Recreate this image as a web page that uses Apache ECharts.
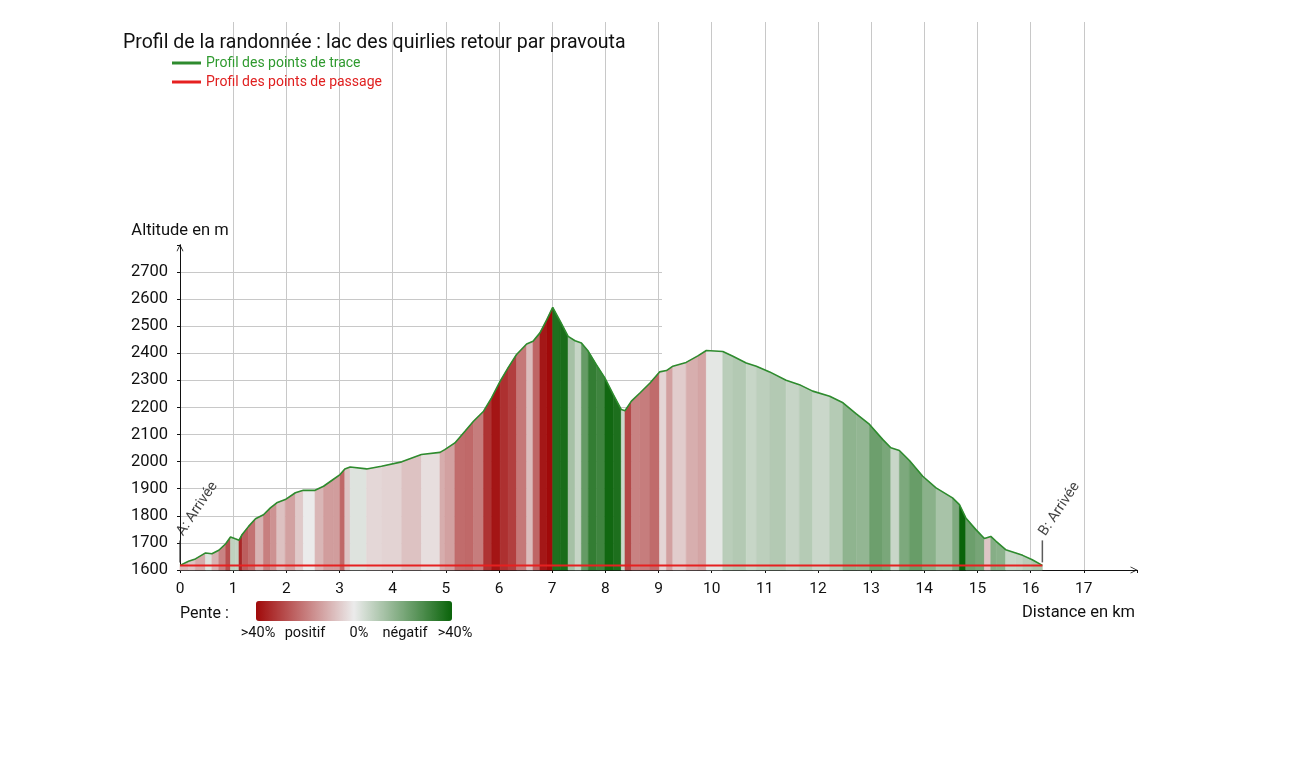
<!DOCTYPE html>
<html><head><meta charset="utf-8">
<script src="https://cdn.jsdelivr.net/npm/echarts@6/dist/echarts.min.js"></script>
<style>html,body{margin:0;padding:0;background:#fff}#c{width:1290px;height:765px}</style>
</head><body><div id="c"></div>
<script>
// ---- data ----
const distanceKm = [0.00,0.16,0.29,0.48,0.60,0.73,0.86,0.95,1.04,1.11,1.17,1.29,1.42,1.57,1.70,1.82,1.98,2.17,2.32,2.54,2.70,2.88,3.01,3.10,3.20,3.51,3.79,4.17,4.54,4.89,4.98,5.17,5.36,5.52,5.71,5.86,6.02,6.17,6.33,6.52,6.64,6.77,6.90,7.01,7.15,7.30,7.43,7.55,7.68,7.83,7.99,8.15,8.30,8.37,8.49,8.65,8.84,9.02,9.15,9.27,9.52,9.74,9.90,10.21,10.40,10.65,10.84,11.09,11.40,11.65,11.90,12.22,12.47,12.72,12.97,13.22,13.37,13.53,13.72,13.97,14.22,14.53,14.66,14.78,14.97,15.13,15.25,15.35,15.53,15.72,15.85,16.03,16.22];
const altitudeM = [1617,1632,1641,1663,1660,1673,1697,1722,1715,1710,1731,1761,1789,1804,1829,1848,1860,1885,1894,1894,1909,1934,1952,1973,1980,1973,1983,1999,2026,2034,2044,2069,2112,2149,2186,2235,2296,2346,2395,2434,2444,2475,2524,2569,2518,2462,2446,2438,2407,2358,2309,2247,2192,2188,2223,2253,2290,2331,2336,2352,2366,2390,2410,2406,2389,2364,2352,2331,2300,2284,2260,2241,2217,2176,2137,2081,2051,2041,2004,1946,1903,1866,1841,1792,1749,1716,1724,1706,1675,1663,1654,1638,1617];
const passageKm = [0, 16.22];
const passageAlt = [1617, 1617];
const waypointKm = [0, 16.22];
const waypointAlt = [1617, 1617];
const waypointNames = ['A: Arrivée', 'B: Arrivée'];
const slopeLegendLabels = ['>40%', 'positif', '0%', 'négatif', '>40%'];

// ---- derived tables ----
const segments = distanceKm.slice(0, -1).map((d, i) => {
  const d1 = distanceKm[i + 1], a0 = altitudeM[i], a1 = altitudeM[i + 1];
  let s = (a1 - a0) / ((d1 - d) * 1000) * 100;
  s = Math.max(-40, Math.min(40, s));
  return [d, d1, a0, a1, -s];
});
const traceData = distanceKm.map((d, i) => [d, altitudeM[i]]);
const passageData = passageKm.map((d, i) => [d, passageAlt[i]]);
const waypointData = waypointKm.map((d, i) => ({ value: [d, waypointAlt[i]], name: waypointNames[i] }));

const FONT = 'Roboto';
const arrowUp = 'path://M5,0L10,10L8.8,10L5,2.4L1.2,10L0,10Z';
const gridGrey = '#c8c8c8';

const chart = echarts.init(document.getElementById('c'));
chart.setOption({
  animation: false,
  backgroundColor: '#ffffff',
  textStyle: { fontFamily: FONT },
  title: {
    text: 'Profil de la randonnée : lac des quirlies retour par pravouta',
    left: 123, top: 33, padding: 0,
    textStyle: { fontSize: 19.5, fontWeight: 'normal', color: '#111', fontFamily: FONT }
  },
  legend: {
    orient: 'vertical', left: 172, top: 56, padding: 0,
    icon: 'rect', itemWidth: 29, itemHeight: 3, itemGap: 5,
    textStyle: { fontSize: 14, fontFamily: FONT, lineHeight: 14 },
    data: [
      { name: 'Profil des points de trace', textStyle: { color: '#2f9a2f' } },
      { name: 'Profil des points de passage', textStyle: { color: '#e02020' } }
    ]
  },
  grid: [
    { left: 180, right: 153, top: 22, bottom: 195 },
    { left: 180, right: 153, top: 244.8, bottom: 195 },
    { left: 180, width: 482, top: 272, bottom: 195 }
  ],
  xAxis: [
    {
      gridIndex: 0, type: 'value', min: 0, max: 18, interval: 1,
      axisLine: { show: true, lineStyle: { color: '#111', width: 1 }, symbol: ['none', arrowUp], symbolSize: [9, 7], symbolOffset: [0, -3] },
      axisTick: { show: true, length: 3, lineStyle: { color: '#111' } },
      axisLabel: { fontSize: 15.5, color: '#111', margin: 11, fontFamily: FONT, formatter: v => (v >= 18 ? '' : String(v)) },
      splitLine: { show: true, showMinLine: false, showMaxLine: false, lineStyle: { color: gridGrey, width: 1 } },
      name: 'Distance en km', nameLocation: 'end', nameGap: -2,
      nameTextStyle: { align: 'right', verticalAlign: 'top', padding: [34, 0, 0, 0], fontSize: 16.5, color: '#111', fontFamily: FONT }
    },
    { gridIndex: 1, type: 'value', min: 0, max: 18, show: false, splitLine: { show: false } },
    { gridIndex: 2, type: 'value', min: 0, max: 1, show: false, splitLine: { show: false } }
  ],
  yAxis: [
    { gridIndex: 0, type: 'value', min: 1600, max: 3600, show: false, splitLine: { show: false } },
    {
      gridIndex: 1, type: 'value', min: 1600, max: 2800, interval: 100,
      axisLine: { show: true, lineStyle: { color: '#111', width: 1 }, symbol: ['none', arrowUp], symbolSize: [9, 7], symbolOffset: [0, -3] },
      axisTick: { show: true, length: 3, lineStyle: { color: '#111' } },
      axisLabel: { fontSize: 16.5, color: '#111', margin: 12, fontFamily: FONT, formatter: v => (v > 2700 ? '' : String(v)) },
      splitLine: { show: false },
      name: 'Altitude en m', nameLocation: 'end', nameGap: 5,
      nameTextStyle: { fontSize: 16.5, color: '#111', fontFamily: FONT }
    },
    {
      gridIndex: 2, type: 'value', min: 1600, max: 2700, interval: 100,
      axisLine: { show: false }, axisTick: { show: false }, axisLabel: { show: false },
      splitLine: { show: true, showMinLine: false, lineStyle: { color: gridGrey, width: 1 } }
    }
  ],
  visualMap: {
    type: 'continuous', seriesIndex: 0, dimension: 4, min: -40, max: 40,
    inRange: { color: ['#a00a0a', '#ebebeb', '#0a640a'] },
    orient: 'horizontal', left: 251, top: 596, padding: 5,
    itemWidth: 20, itemHeight: 196, calculable: false, text: null, hoverLink: false
  },
  graphic: [
    { type: 'text', left: 180, top: 606, style: { text: 'Pente :', fontSize: 16, fill: '#111', fontFamily: FONT } },
    ...[258, 305, 359, 405, 455].map((cx, i) => ({
      type: 'text', x: cx, y: 633,
      style: { text: slopeLegendLabels[i], fontSize: 14.5, fill: '#111', fontFamily: FONT, align: 'center', verticalAlign: 'middle' }
    }))
  ],
  series: [
    {
      type: 'custom', name: 'pente', xAxisIndex: 1, yAxisIndex: 1, silent: true, z: 2,
      encode: { x: [0, 1], y: [2, 3] },
      data: segments,
      renderItem: (params, api) => {
        const p0 = api.coord([api.value(0), api.value(2)]);
        const p1 = api.coord([api.value(1), api.value(3)]);
        const b1 = api.coord([api.value(1), 1600]);
        const b0 = api.coord([api.value(0), 1600]);
        const c = api.visual('color');
        return { type: 'polygon', shape: { points: [p0, p1, b1, b0] }, style: { fill: c, stroke: c, lineWidth: 0.6 } };
      }
    },
    {
      type: 'line', name: 'Profil des points de trace', xAxisIndex: 1, yAxisIndex: 1, z: 3,
      data: traceData, showSymbol: false, symbol: 'none', color: '#2e8b2e',
      lineStyle: { color: '#2e8b2e', width: 1.6 }
    },
    {
      type: 'line', name: 'Profil des points de passage', xAxisIndex: 1, yAxisIndex: 1, z: 4,
      data: passageData, showSymbol: false, symbol: 'none', color: '#e62020',
      lineStyle: { color: '#e62020', width: 2 }
    },
    {
      type: 'scatter', name: 'waypoints', xAxisIndex: 1, yAxisIndex: 1, z: 5, silent: true,
      data: waypointData, symbol: 'rect', symbolSize: [1.5, 22], symbolOffset: [0, -14],
      itemStyle: { color: '#333' },
      label: {
        show: true, formatter: p => p.name, position: 'top', distance: 6,
        rotate: 56, align: 'left', verticalAlign: 'middle', offset: [0, 0],
        fontSize: 14.5, color: '#111', fontFamily: FONT
      }
    }
  ]
});
</script>
</body></html>
